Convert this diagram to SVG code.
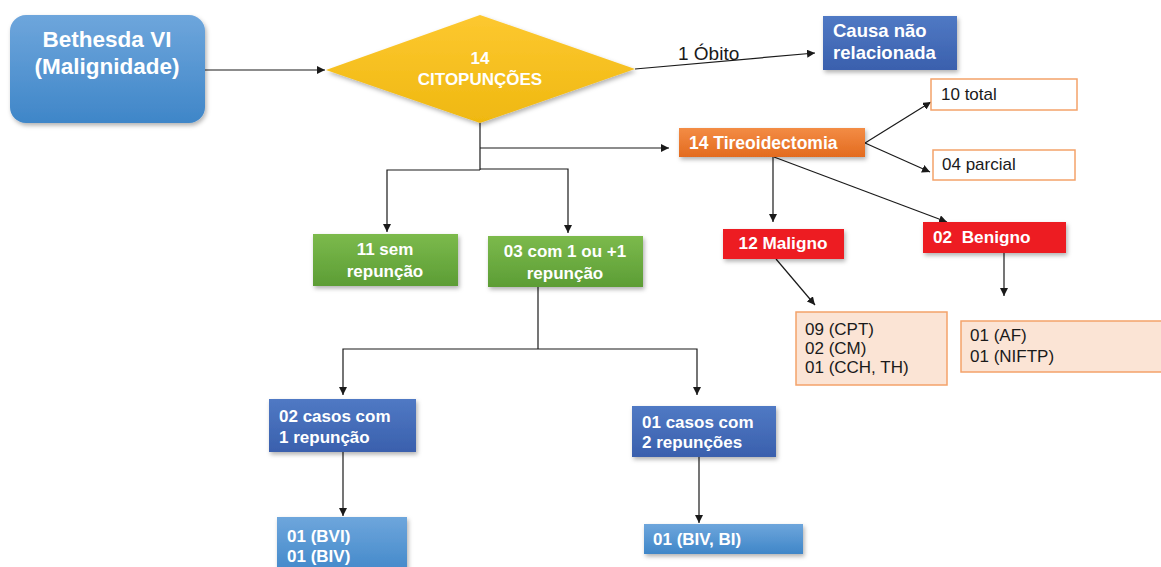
<svg xmlns="http://www.w3.org/2000/svg" width="1161" height="567" viewBox="0 0 1161 567">
  <style>
    .bw { font-family: "Liberation Sans", Arial, sans-serif; font-weight: bold; fill: #ffffff; }
    .rg { font-family: "Liberation Sans", Arial, sans-serif; fill: #1a1a1a; }
    .ln { stroke: #1a1a1a; stroke-width: 1.2; fill: none; }
    .arr { marker-end: url(#ah); }
    .peach { fill: #fbe4d5; stroke: #f4a26a; stroke-width: 1.5; }
    .outline { fill: #ffffff; stroke: #f4a26a; stroke-width: 1.5; }
  </style>
  <defs>
    <marker id="ah" viewBox="0 0 10 10" refX="10" refY="5" markerWidth="8" markerHeight="8" markerUnits="userSpaceOnUse" orient="auto">
      <path d="M0,0 L10,5 L0,10 z" fill="#1a1a1a"/>
    </marker>
    <filter id="sh" x="-10%" y="-10%" width="125%" height="135%">
      <feDropShadow dx="1.5" dy="2.5" stdDeviation="2" flood-color="#000000" flood-opacity="0.3"/>
    </filter>
    <linearGradient id="gLight" x1="0" y1="0" x2="0" y2="1">
      <stop offset="0" stop-color="#6ea6dc"/>
      <stop offset="1" stop-color="#3f86c8"/>
    </linearGradient>
    <linearGradient id="gGold" x1="0" y1="0" x2="0" y2="1">
      <stop offset="0" stop-color="#fdc830"/>
      <stop offset="1" stop-color="#efb810"/>
    </linearGradient>
    <linearGradient id="gBlue" x1="0" y1="0" x2="0" y2="1">
      <stop offset="0" stop-color="#5079c4"/>
      <stop offset="1" stop-color="#3a60ad"/>
    </linearGradient>
    <linearGradient id="gOrange" x1="0" y1="0" x2="0" y2="1">
      <stop offset="0" stop-color="#f38c45"/>
      <stop offset="1" stop-color="#e36b1f"/>
    </linearGradient>
    <linearGradient id="gGreen" x1="0" y1="0" x2="0" y2="1">
      <stop offset="0" stop-color="#7cba4c"/>
      <stop offset="1" stop-color="#5c9d35"/>
    </linearGradient>
  </defs>

  <!-- connectors -->
  <g id="connectors">
    <line class="ln arr" x1="205" y1="70" x2="325" y2="70"/>
    <line class="ln arr" x1="635" y1="69" x2="815" y2="53"/>
    <polyline class="ln" points="480,123 480,170"/>
    <line class="ln arr" x1="480" y1="148" x2="669" y2="148"/>
    <polyline class="ln arr" points="480,170 387,170 387,232"/>
    <polyline class="ln arr" points="480,169 568,169 568,233"/>
    <line class="ln arr" x1="865" y1="143" x2="931" y2="102"/>
    <line class="ln arr" x1="865" y1="143" x2="930" y2="172"/>
    <line class="ln arr" x1="773" y1="157" x2="773" y2="222"/>
    <line class="ln arr" x1="774" y1="157" x2="947" y2="222"/>
    <line class="ln arr" x1="776" y1="259" x2="815" y2="305"/>
    <line class="ln arr" x1="1004" y1="253" x2="1004" y2="296"/>
    <polyline class="ln" points="538,287 538,349"/>
    <polyline class="ln arr" points="538,349 343,349 343,395"/>
    <polyline class="ln arr" points="538,349 697,349 697,395"/>
    <line class="ln arr" x1="343" y1="452" x2="343" y2="516"/>
    <line class="ln arr" x1="699" y1="457" x2="699" y2="523"/>
  </g>

  <g id="bethesda">
    <rect x="10" y="15" width="195" height="108" rx="16" fill="url(#gLight)" filter="url(#sh)"/>
    <text class="bw" x="107" y="47" font-size="22.5" text-anchor="middle">Bethesda VI</text>
    <text class="bw" x="107" y="74" font-size="22.5" text-anchor="middle">(Malignidade)</text>
  </g>

  <g id="citopuncoes">
    <polygon points="326,70 480,15 635,69 480,123" fill="url(#gGold)" filter="url(#sh)"/>
    <text class="bw" x="480" y="64" font-size="17" text-anchor="middle">14</text>
    <text class="bw" x="480" y="85" font-size="17" text-anchor="middle">CITOPUNÇÕES</text>
  </g>

  <g id="obito-label">
    <text class="rg" x="678" y="60" font-size="19">1 Óbito</text>
  </g>

  <g id="causa">
    <rect x="823" y="16" width="134" height="54" fill="url(#gBlue)" filter="url(#sh)"/>
    <text class="bw" x="833" y="37" font-size="18.5">Causa não</text>
    <text class="bw" x="833" y="59" font-size="18.5">relacionada</text>
  </g>

  <g id="total">
    <rect class="outline" x="931" y="79" width="146" height="31"/>
    <text class="rg" x="941" y="100" font-size="17">10 total</text>
  </g>

  <g id="parcial">
    <rect class="outline" x="933" y="150" width="142" height="30"/>
    <text class="rg" x="942" y="170" font-size="17">04 parcial</text>
  </g>

  <g id="tireoidectomia">
    <rect x="679" y="128" width="186" height="29" fill="url(#gOrange)" filter="url(#sh)"/>
    <text class="bw" x="689" y="149" font-size="17.5">14 Tireoidectomia</text>
  </g>

  <g id="sem-repuncao">
    <rect x="313" y="234" width="145" height="52" fill="url(#gGreen)" filter="url(#sh)"/>
    <text class="bw" x="385" y="255" font-size="17" text-anchor="middle">11 sem</text>
    <text class="bw" x="385" y="277" font-size="17" text-anchor="middle">repunção</text>
  </g>

  <g id="com-repuncao">
    <rect x="488" y="236" width="155" height="51" fill="url(#gGreen)" filter="url(#sh)"/>
    <text class="bw" x="565" y="257" font-size="17" text-anchor="middle">03 com 1 ou +1</text>
    <text class="bw" x="565" y="279" font-size="17" text-anchor="middle">repunção</text>
  </g>

  <g id="maligno">
    <rect x="723" y="229" width="121" height="30" fill="#ed1c24" filter="url(#sh)"/>
    <text class="bw" x="783" y="249" font-size="17.2" text-anchor="middle">12 Maligno</text>
  </g>

  <g id="benigno">
    <rect x="923" y="222" width="143" height="31" fill="#ed1c24" filter="url(#sh)"/>
    <text class="bw" x="933" y="243" font-size="17.2" xml:space="preserve">02  Benigno</text>
  </g>

  <g id="maligno-tipos">
    <rect class="peach" x="796" y="312" width="151" height="73"/>
    <text class="rg" x="805" y="335" font-size="17">09 (CPT)</text>
    <text class="rg" x="805" y="354" font-size="17">02 (CM)</text>
    <text class="rg" x="805" y="373" font-size="17">01 (CCH, TH)</text>
  </g>

  <g id="benigno-tipos">
    <rect class="peach" x="961" y="321" width="205" height="51"/>
    <text class="rg" x="970" y="341" font-size="17">01 (AF)</text>
    <text class="rg" x="970" y="362" font-size="17">01 (NIFTP)</text>
  </g>

  <g id="uma-repuncao">
    <rect x="269" y="399" width="147" height="53" fill="url(#gBlue)" filter="url(#sh)"/>
    <text class="bw" x="279" y="422" font-size="17">02 casos com</text>
    <text class="bw" x="279" y="443" font-size="17">1 repunção</text>
  </g>

  <g id="duas-repuncoes">
    <rect x="632" y="406" width="144" height="51" fill="url(#gBlue)" filter="url(#sh)"/>
    <text class="bw" x="642" y="428" font-size="17">01 casos com</text>
    <text class="bw" x="642" y="448" font-size="17">2 repunções</text>
  </g>

  <g id="resultado-uma">
    <rect x="277" y="517" width="130" height="60" fill="url(#gLight)" filter="url(#sh)"/>
    <text class="bw" x="287" y="542" font-size="17">01 (BVI)</text>
    <text class="bw" x="287" y="562" font-size="17">01 (BIV)</text>
  </g>

  <g id="resultado-duas">
    <rect x="644" y="524" width="159" height="30" fill="url(#gLight)" filter="url(#sh)"/>
    <text class="bw" x="653" y="545" font-size="17">01 (BIV, BI)</text>
  </g>
</svg>
